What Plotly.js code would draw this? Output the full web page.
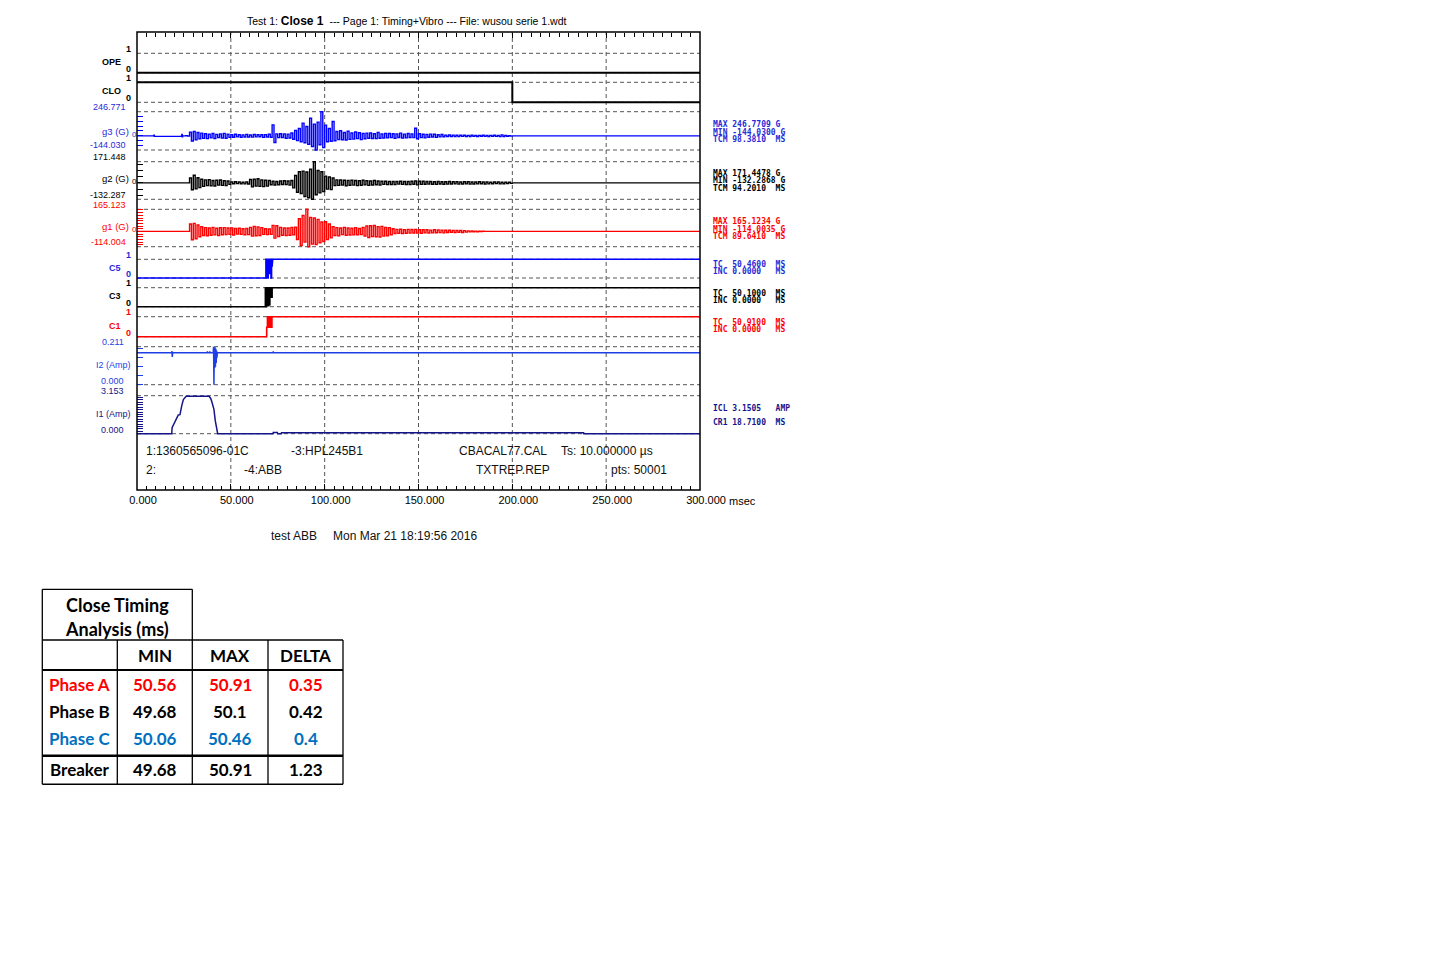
<!DOCTYPE html>
<html><head><meta charset="utf-8">
<script src="https://cdn.plot.ly/plotly-3.0.1.min.js"></script>
<style>html,body{margin:0;padding:0;background:#fff;}#chart{width:1440px;height:962px;}</style>
</head><body><div id="chart"></div>
<script>
// ================= DATA =================
const timeTicks = [0, 50, 100, 150, 200, 250, 300];
const timeTickText = ['0.000', '50.000', '100.000', '150.000', '200.000', '250.000', '300.000'];
const gridTimes = [50, 100, 150, 200, 250];
const minorTimeStep = 5;

// digital channels
const opeT = [0, 300];
const opeV = [0, 0];
const cloT = [0, 200, 200, 300];
const cloV = [1, 1, 0, 0];

// vibration channels, sampled every vibStep ms from vibStart
const vibStart = 25;
const vibStep = 1;
const g3BlipT = [8.8, 9.0, 9.2, 23.7, 23.9, 24.1, 24.3];
const g3BlipV = [0, 8, -5, 0, 14, -10, 0];
const g3Vals = [
  0, 1, -2, 38, -52, 45, -40, 35, -30, 28,
  -25, 22, -28, 18, -20, 24, -26, 15, -18, 20,
  -22, 26, -24, 18, -15, 12, -14, 16, -10, 12,
  -14, 10, -12, 15, -11, 9, -13, 14, -10, 12,
  -9, 11, -15, 13, -12, 16, -14, 112, -67, 20,
  -18, 22, -16, 20, -24, 18, -22, 30, -35, 55,
  -48, 75, -60, 130, -70, 95, -85, 180, -108, 120,
  -144, 140, -90, 246, -120, 110, -60, 75, -55, 147,
  -50, 45, -38, 52, -40, 35, -42, 48, -36, 30,
  -33, 40, -28, 32, -38, 25, -30, 28, -24, 30,
  -26, 22, -28, 35, -24, 20, -22, 26, -20, 24,
  -18, 22, -25, 20, -17, 28, -22, 18, -20, 24,
  -16, 20, -18, 78, -30, 22, -18, 16, -20, 15,
  -14, 18, -12, 16, -15, 12, -10, 14, -9, 8,
  -7, 9, -6, 8, -7, 6, -8, 7, -5, 6,
  -6, 5, -7, 6, -5, 4, -6, 5, -4, 6,
  -5, 4, -6, 5, -4, 6, -5, 4, -8, 10,
  -6, 4, -3, 2, -2, 0
];
const g2Vals = [
  0, 0, 0, 40, -55, 62, -48, 42, -38, 30,
  -28, 25, -22, 26, -24, 20, -25, 22, -18, 24,
  -20, 18, -22, 15, -12, 8, -7, 9, -6, 8,
  -7, 6, -8, 7, -9, 28, -32, 30, -26, 34,
  -28, 25, -30, 22, -26, 20, -15, 14, -17, 12,
  -16, 15, -13, 17, -14, 16, -18, 20, -40, 60,
  -75, 90, -85, 95, -110, 88, -120, 110, -132, 171,
  -95, 100, -80, 90, -70, 55, -50, 48, -54, 40,
  -22, 25, -20, 24, -18, 22, -23, 20, -19, 21,
  -18, 20, -22, 17, -19, 21, -16, 18, -20, 15,
  -17, 19, -15, 16, -18, 14, -12, 13, -14, 12,
  -13, 11, -14, 12, -10, 13, -12, 11, -13, 12,
  -14, 13, -11, 15, -16, 14, -12, 13, -11, 12,
  -10, 12, -11, 10, -12, 11, -9, 10, -11, 9,
  -10, 11, -9, 10, -8, 9, -10, 8, -9, 10,
  -8, 9, -10, 8, -9, 7, -8, 9, -7, 8,
  -9, 7, -8, 6, -7, 8, -6, 7, -8, 6,
  -7, 6, -5, 6, -4, 0
];
const g1Vals = [
  0, 0, 0, 55, -62, 60, -55, 48, -40, 35,
  -30, 28, -32, 25, -28, 30, -26, 24, -30, 27,
  -25, 28, -24, 26, -22, 25, -27, 23, -20, 24,
  -22, 20, -25, 22, -24, 30, -35, 37, -32, 34,
  -30, 28, -22, 20, -24, 18, -22, 45, -50, 42,
  -38, 30, -28, 26, -30, 25, -28, 30, -26, 32,
  -60, 95, -105, 120, -80, 165, -114, 105, -95, 100,
  -98, 90, -85, 70, -75, 72, -60, 55, -48, 35,
  -30, 28, -32, 26, -24, 30, -28, 25, -27, 24,
  -26, 28, -25, 22, -24, 30, -35, 40, -45, 42,
  -38, 44, -40, 36, -42, 38, -35, 30, -32, 28,
  -25, 20, -16, 15, -14, 16, -15, 13, -14, 15,
  -13, 14, -12, 15, -13, 12, -14, 13, -11, 12,
  -12, 10, -11, 12, -10, 11, -9, 10, -11, 9,
  -8, 9, -7, 8, -9, 7, -6, 7, -8, 6,
  -5, 4, -3, 3, -2, 2, -2, 1, -1, 1,
  0, 0, 0, 0, 0, 0, 0, 0, 0, 0,
  0, 0, 0, 0, 0, 0
];
const g3Range = [-144.030, 246.771];
const g2Range = [-132.287, 171.448];
const g1Range = [-114.004, 165.123];
const g3Ticks = [-100, -50, 0, 50, 100, 150, 200];
const g2Ticks = [-100, -50, 0, 50, 100, 150];
const g1Ticks = [-100, -80, -60, -40, -20, 0, 20, 40, 60, 80, 100, 120, 140, 160];

// contact channels (bounce at closing)
const c5T = [0, 68.7, 68.7, 69.0, 69.0, 69.3, 69.3, 69.6, 69.6, 69.9, 69.9, 70.2, 70.2, 70.5, 70.5, 70.8, 70.8, 71.1, 71.1, 71.4, 71.4, 71.7, 71.7, 72.0, 72.0, 72.3, 300];
const c5V = [0, 0, 1, 1, 0, 0, 1, 1, 0, 0, 1, 1, 0.25, 0.25, 1, 1, 0.25, 0.25, 1, 1, 0, 0, 1, 1, 0.6, 1, 1];
const c3T = [0, 68.4, 68.4, 68.7, 68.7, 69.0, 69.0, 69.3, 69.3, 69.6, 69.6, 69.9, 69.9, 70.2, 70.2, 70.5, 70.5, 70.8, 70.8, 71.1, 71.1, 71.4, 71.4, 71.7, 71.7, 72.0, 72.0, 72.3, 300];
const c3V = [0, 0, 1, 1, 0, 0, 1, 1, 0.05, 0.05, 1, 1, 0.05, 0.05, 1, 1, 0.1, 0.1, 1, 1, 0.5, 0.5, 1, 1, 0.5, 0.5, 1, 1, 1];
const c1T = [0, 69.1, 69.1, 69.5, 69.5, 69.8, 69.8, 70.1, 70.1, 70.4, 70.4, 70.7, 70.7, 71.0, 71.0, 71.3, 71.3, 71.6, 71.6, 71.9, 71.9, 72.2, 300];
const c1V = [0, 0, 0.47, 0.47, 1, 1, 0.47, 0.47, 1, 1, 0.47, 0.47, 1, 1, 0.47, 0.47, 1, 1, 0.47, 0.47, 1, 1, 1];

// currents
const i2Range = [0, 0.211];
const i2Ticks = [0, 0.05, 0.10, 0.15, 0.20];
const i2T = [0, 18.5, 18.6, 18.8, 19.0, 19.1, 37.3, 37.5, 37.7, 38.6, 38.8, 39.0, 40.6, 40.8, 41.0, 41.0, 41.2, 41.4, 41.6, 41.8, 42.0, 42.2, 42.4, 42.6, 42.8, 72.5, 72.6, 72.7, 300];
const i2V = [0.177, 0.177, 0.186, 0.154, 0.182, 0.177, 0.177, 0.185, 0.177, 0.177, 0.184, 0.177, 0.177, 0.211, 0.0, 0.177, 0.205, 0.092, 0.208, 0.10, 0.20, 0.12, 0.19, 0.15, 0.177, 0.177, 0.185, 0.177, 0.177];
const i1Range = [0, 3.153];
const i1Ticks = [0, 0.2, 0.4, 0.6, 0.8, 1.0, 1.2, 1.4, 1.6, 1.8, 2.0, 2.2, 2.4, 2.6, 2.8, 3.0];
const i1T = [0, 18.5, 18.7, 19.4, 19.9, 20.5, 21.1, 22.0, 22.9, 23.3, 23.8, 24.7, 25.6, 26.2, 38.4, 39.2, 39.8, 40.4, 41.0, 41.7, 42.5, 43.0, 72.4, 72.6, 74.8, 75.0, 76.9, 77.0, 238.0, 238.1, 300];
const i1V = [0, 0, 0.49, 0.72, 0.94, 1.15, 1.40, 1.56, 1.58, 1.95, 2.29, 2.83, 3.04, 3.10, 3.10, 2.95, 2.69, 2.35, 2.02, 1.08, 0.40, 0, 0, 0.10, 0.10, 0, 0, 0.07, 0.07, 0, 0];

// right-hand measurement readouts
const g3Stats = [246.7709, -144.0300, 98.3810];
const g2Stats = [171.4478, -132.2868, 94.2010];
const g1Stats = [165.1234, -114.0035, 89.6410];
const c5Stats = [50.4600, 0.0000];
const c3Stats = [50.1000, 0.0000];
const c1Stats = [50.9100, 0.0000];
const coilStats = [3.1505, 18.7100];

// header / footer texts
const infoRow1 = ['1:1360565096-01C', '-3:HPL245B1', 'CBACAL77.CAL', 'Ts: 10.000000 µs'];
const infoRow2 = ['2:', '-4:ABB', 'TXTREP.REP', 'pts: 50001'];

// timing table
const tableTitle = ['Close Timing', 'Analysis (ms)'];
const tableHeader = ['MIN', 'MAX', 'DELTA'];
const rowLabels = ['Phase A', 'Phase B', 'Phase C', 'Breaker'];
const minVals = [50.56, 49.68, 50.06, 49.68];
const maxVals = [50.91, 50.1, 50.46, 50.91];
const deltaVals = [0.35, 0.42, 0.4, 1.23];

// ================= LAYOUT HELPERS =================
const W = 1440, H = 962;
const px = v => v / W;
const py = v => 1 - v / H;
const SANS = 'Liberation Sans, Arial, sans-serif';
const MONO = 'DejaVu Sans Mono, Liberation Mono, monospace';
const BLUE = '#0000ff', RED = '#ff0000', BLACK = '#000000', NAVY = '#15158a', I2BLUE = '#1f3fe6';
const LBLUE = '#2a2ad8';
const FR = {l: 137, r: 700, t: 32, b: 490};
const nb = s => s.replace(/ /g, '\u00a0');

const lanes = [
  {name: 'OPE', lo: 0, hi: 1, top: 53.3, bot: 72.7, color: BLACK, kind: 'dig'},
  {name: 'CLO', lo: 0, hi: 1, top: 82.3, bot: 102.3, color: BLACK, kind: 'dig'},
  {name: 'g3 (G)', lo: g3Range[0], hi: g3Range[1], top: 111.7, bot: 150, color: BLUE, lab: LBLUE, kind: 'ana', ticks: g3Ticks},
  {name: 'g2 (G)', lo: g2Range[0], hi: g2Range[1], top: 161.7, bot: 199.3, color: BLACK, lab: BLACK, kind: 'ana', ticks: g2Ticks},
  {name: 'g1 (G)', lo: g1Range[0], hi: g1Range[1], top: 209.3, bot: 246.7, color: RED, lab: RED, kind: 'ana', ticks: g1Ticks},
  {name: 'C5', lo: 0, hi: 1, top: 259.3, bot: 278, color: BLUE, lab: LBLUE, kind: 'dig'},
  {name: 'C3', lo: 0, hi: 1, top: 287.7, bot: 306.7, color: BLACK, lab: BLACK, kind: 'dig'},
  {name: 'C1', lo: 0, hi: 1, top: 316.7, bot: 336.7, color: RED, lab: RED, kind: 'dig'},
  {name: 'I2 (Amp)', lo: i2Range[0], hi: i2Range[1], top: 346.7, bot: 384.7, color: I2BLUE, lab: I2BLUE, kind: 'cur', ticks: i2Ticks},
  {name: 'I1 (Amp)', lo: i1Range[0], hi: i1Range[1], top: 395.7, bot: 433.7, color: NAVY, lab: NAVY, kind: 'cur', ticks: i1Ticks}
];

const layout = {
  width: W, height: H, margin: {l: 0, r: 0, t: 0, b: 0},
  paper_bgcolor: '#fff', plot_bgcolor: 'rgba(0,0,0,0)', showlegend: false,
  xaxis: {
    domain: [px(FR.l), px(FR.r)], range: [0, 300], anchor: 'free', position: py(FR.b),
    showline: false, showgrid: false, zeroline: false,
    ticks: 'inside', ticklen: 6, tickcolor: '#000', tickwidth: 1,
    tickvals: timeTicks, ticktext: timeTickText,
    tickfont: {family: SANS, size: 11, color: '#000'},
    ticklabelshift: 6, ticklabelstandoff: 2,
    minor: {dtick: minorTimeStep, tick0: 0, ticks: 'inside', ticklen: 4, tickcolor: '#000', showgrid: false},
    fixedrange: true
  },
  xaxis2: {
    overlaying: 'x', side: 'top', range: [0, 300], anchor: 'free', position: py(FR.t),
    showline: false, showgrid: false, zeroline: false, showticklabels: false,
    ticks: 'inside', ticklen: 5, tickcolor: '#000', tickvals: timeTicks,
    minor: {dtick: minorTimeStep, tick0: 0, ticks: 'inside', ticklen: 4, tickcolor: '#000', showgrid: false},
    fixedrange: true
  },
  shapes: [], annotations: []
};

const traces = [];
const PAD = 0.1;
lanes.forEach((ln, i) => {
  const axName = 'yaxis' + (i === 0 ? '' : (i + 1));
  const ref = 'y' + (i === 0 ? '' : (i + 1));
  ln.ref = ref;
  const span = ln.hi - ln.lo, pix = ln.bot - ln.top;
  layout[axName] = {
    domain: [py(ln.bot + PAD * pix), py(ln.top - PAD * pix)],
    range: [ln.lo - PAD * span, ln.hi + PAD * span],
    anchor: 'x', showline: false, showgrid: false, zeroline: false, showticklabels: false,
    ticks: ln.ticks ? 'inside' : '', tickvals: ln.ticks || [], ticklen: 6, tickwidth: 1,
    tickcolor: ln.color, fixedrange: true
  };
  [ln.lo, ln.hi].forEach(v => layout.shapes.push({
    type: 'line', xref: 'x', yref: ref, x0: 0, x1: 300, y0: v, y1: v, layer: 'below',
    line: {color: '#555', width: 1, dash: '4px,3px'}
  }));
});

function addTrace(x, y, laneIdx, width, shape) {
  traces.push({x, y, xaxis: 'x', yaxis: lanes[laneIdx].ref, type: 'scatter', mode: 'lines',
    line: {color: lanes[laneIdx].color, width: width, shape: shape || 'linear'}, hoverinfo: 'skip'});
}
function vib(vals, blipT, blipV) {
  const x = [0], y = [0];
  blipT.forEach((t, k) => { x.push(t); y.push(blipV[k]); });
  vals.forEach((v, k) => { x.push(vibStart + k * vibStep); y.push(v); });
  x.push(300); y.push(0);
  return [x, y];
}
addTrace(opeT, opeV, 0, 2);
addTrace(cloT, cloV, 1, 2);
let v3 = vib(g3Vals, g3BlipT, g3BlipV); addTrace(v3[0], v3[1], 2, 1.4, 'hv');
let v2 = vib(g2Vals, [], []); addTrace(v2[0], v2[1], 3, 1.4, 'hv');
let v1 = vib(g1Vals, [], []); addTrace(v1[0], v1[1], 4, 1.4, 'hv');
addTrace(c5T, c5V, 5, 1.6);
addTrace(c3T, c3V, 6, 1.6);
addTrace(c1T, c1V, 7, 1.6);
addTrace(i2T, i2V, 8, 1.5);
addTrace(i1T, i1V, 9, 1.5);
// invisible trace to activate the top tick axis
traces.push({x: [0, 300], y: [0, 0], xaxis: 'x2', yaxis: 'y', mode: 'lines', line: {width: 0, color: 'rgba(0,0,0,0)'}, hoverinfo: 'skip'});

gridTimes.forEach(t => layout.shapes.push({
  type: 'line', xref: 'x', yref: 'paper', x0: t, x1: t, y0: py(FR.b), y1: py(FR.t), layer: 'below',
  line: {color: '#555', width: 1, dash: '4px,3px'}
}));
layout.shapes.push({type: 'rect', xref: 'paper', yref: 'paper', x0: px(FR.l), x1: px(FR.r), y0: py(FR.b), y1: py(FR.t),
  line: {color: '#000', width: 1.5}, layer: 'above'});

// ---- annotations ----
function ann(text, x, y, o) {
  o = o || {};
  return {text: text, x: px(x), y: py(y), xref: 'paper', yref: 'paper', showarrow: false,
    xanchor: o.xa || 'left', yanchor: 'middle', borderpad: 0,
    font: {family: o.family || SANS, size: o.size || 9, color: o.color || '#000', weight: o.weight || 400}};
}
const A = layout.annotations;
A.push(ann('Test 1: <span style="font-size:12px"><b>Close 1</b></span>  --- Page 1: Timing+Vibro --- File: wusou serie 1.wdt', 406, 21, {xa: 'center', size: 10.5}));

lanes.forEach(ln => {
  const c = ln.lab || ln.color;
  if (ln.kind === 'dig') {
    A.push(ann('1', 131.5, ln.top - 4.3, {xa: 'right', color: c, weight: 700}));
    A.push(ann('0', 131.5, ln.bot - 4, {xa: 'right', color: c, weight: 700}));
    A.push(ann(ln.name, 122, (ln.top + ln.bot) / 2 - 1, {xa: 'right', color: c, weight: 700}));
  } else if (ln.kind === 'ana') {
    const zeroPix = ln.top + (ln.hi - 0) / (ln.hi - ln.lo) * (ln.bot - ln.top);
    A.push(ann(ln.hi.toFixed(3), 126.7, ln.top - 4.5, {xa: 'right', color: c}));
    A.push(ann(ln.lo.toFixed(3), 126.7, ln.bot - 4.5, {xa: 'right', color: c}));
    A.push(ann(ln.name, 130, zeroPix - 4.5, {xa: 'right', color: c, size: 9.5}));
    A.push(ann('0', 130.5, zeroPix - 1.5, {color: c, size: 8}));
  } else {
    A.push(ann(ln.hi.toFixed(3), 125, ln.top - 4.6, {xa: 'right', color: c}));
    A.push(ann(ln.lo.toFixed(3), 125, ln.bot - 4, {xa: 'right', color: c}));
    A.push(ann(ln.name, 131.5, (ln.top + ln.bot) / 2 - 0.5, {xa: 'right', color: c}));
  }
});

function readout(lines, ys, color) {
  lines.forEach((s, k) => A.push(ann(nb(s), 712, ys[k], {family: MONO, size: 8, color: color, weight: 700})));
}
function gLines(s) { return ['MAX ' + s[0].toFixed(4) + ' G', 'MIN ' + s[1].toFixed(4) + ' G', 'TCM ' + s[2].toFixed(4) + '  MS']; }
function cLines(s) { return ['TC  ' + s[0].toFixed(4) + '  MS', 'INC ' + s[1].toFixed(4) + '   MS']; }
readout(gLines(g3Stats), [124.5, 132, 139.5], LBLUE);
readout(gLines(g2Stats), [173.5, 181, 188.5], BLACK);
readout(gLines(g1Stats), [221.5, 229, 236.5], RED);
readout(cLines(c5Stats), [264.5, 271.5], LBLUE);
readout(cLines(c3Stats), [293.5, 300.5], BLACK);
readout(cLines(c1Stats), [322.5, 329.5], RED);
readout(['ICL ' + coilStats[0].toFixed(4) + '   AMP', 'CR1 ' + coilStats[1].toFixed(4) + '  MS'], [408, 422], NAVY);

const row1X = [145, 289.5, 458.5, 560];
const row2X = [145, 242.5, 475, 609.5];
infoRow1.forEach((s, k) => A.push(ann(s, row1X[k], 451, {size: 12, color: '#111'})));
infoRow2.forEach((s, k) => A.push(ann(s, row2X[k], 469.5, {size: 12, color: '#111'})));
A.push(ann('msec', 727.5, 500.5, {size: 11}));
A.push(ann('test ABB', 270, 535.5, {size: 12, color: '#111'}));
A.push(ann('Mon Mar 21 18:19:56 2016', 331.5, 535.5, {size: 12, color: '#111'}));

// ---- timing table ----
const TF = 'Lato, Carlito, Calibri, sans-serif';
const colX = [42.3, 117.3, 192.3, 268, 343];
const tTop = 589.3, hTop = 640, hBot = 670, sepY = 755.7, tBot = 784.3;
function tl(x0, y0, x1, y1, w) {
  layout.shapes.push({type: 'line', xref: 'paper', yref: 'paper', x0: px(x0), x1: px(x1), y0: py(y0), y1: py(y1), line: {color: '#000', width: w || 1.3}});
}
tl(colX[0], tTop, colX[2], tTop);
tl(colX[0], tTop, colX[0], tBot);
tl(colX[2], tTop, colX[2], hTop);
tl(colX[0], hTop, colX[4], hTop);
tl(colX[0], hBot, colX[4], hBot, 1.8);
tl(colX[0], sepY, colX[4], sepY, 2.6);
tl(colX[0], tBot, colX[4], tBot, 1.5);
[1, 2, 3, 4].forEach(k => tl(colX[k], hTop, colX[k], tBot));
const tb = (text, x, y, color, size) => ann(text, x, y, {xa: 'center', family: TF, size: size || 17, color: color, weight: 700});
A.push(tb(tableTitle[0], (colX[0] + colX[2]) / 2, 605, BLACK, 18));
A.push(tb(tableTitle[1], (colX[0] + colX[2]) / 2, 629, BLACK, 18));
tableHeader.forEach((h, k) => A.push(tb(h, (colX[k + 1] + colX[k + 2]) / 2, 655)));
const rowYs = [684.5, 711.5, 738.5, 769.5];
const rowColors = [RED, BLACK, '#0070c0', BLACK];
rowLabels.forEach((lab, r) => {
  const c = rowColors[r];
  A.push(tb(lab, (colX[0] + colX[1]) / 2, rowYs[r], c));
  A.push(tb(String(minVals[r]), (colX[1] + colX[2]) / 2, rowYs[r], c));
  A.push(tb(String(maxVals[r]), (colX[2] + colX[3]) / 2, rowYs[r], c));
  A.push(tb(String(deltaVals[r]), (colX[3] + colX[4]) / 2, rowYs[r], c));
});

Plotly.newPlot('chart', traces, layout, {staticPlot: true, displayModeBar: false});
</script>
</body></html>
